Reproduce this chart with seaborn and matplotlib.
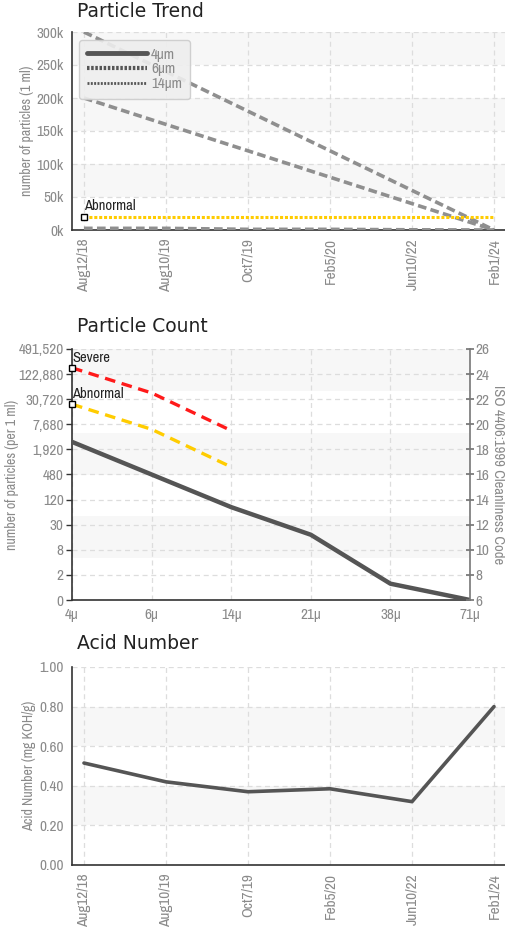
import matplotlib
matplotlib.use("Agg")
import matplotlib.pyplot as plt
from matplotlib import font_manager
from matplotlib.lines import Line2D
import numpy as np
import pandas as pd
import seaborn as sns

# ---- data -------------------------------------------------------------
dates = ["Aug12/18", "Aug10/19", "Oct7/19", "Feb5/20", "Jun10/22", "Feb1/24"]
trend_upper = [300000, 240000, 180000, 120000, 60000, 0]
trend_middle = [200000, 160000, 120000, 80000, 40000, 0]
trend_lower = [2500, 2500, 1000, 1000, 300, 0]
trend_abnormal = 20000
trend_legend = ["4\u03bcm", "6\u03bcm", "14\u03bcm"]

sizes = ["4\u03bc", "6\u03bc", "14\u03bc", "21\u03bc", "38\u03bc", "71\u03bc"]
iso_codes = [18.6, 16.0, 13.4, 11.2, 7.3, 6.0]
severe_codes = [24.5, 22.5, 19.5]
abnormal_codes = [21.6, 19.6, 16.6]
count_labels = ["0", "2", "8", "30", "120", "480", "1,920", "7,680",
                "30,720", "122,880", "491,520"]
code_ticks = [6, 8, 10, 12, 14, 16, 18, 20, 22, 24, 26]

acid = [0.515, 0.42, 0.37, 0.385, 0.32, 0.80]
acid_ticks = [0.0, 0.2, 0.4, 0.6, 0.8, 1.0]

# ---- style ------------------------------------------------------------
sns.set_theme(style="white")
plt.rcParams["font.family"] = ["DejaVu Sans"]

# look for a narrow face for the tick labels
fonts = font_manager.fontManager.ttflist
narrow = None
for f in fonts:
    if "Narrow" in f.name or "Condensed" in f.name:
        narrow = dict(family=f.name, stretch="normal")
        break
if narrow is None:
    for f in fonts:
        if f.name == "DejaVu Sans" and f.stretch == "condensed":
            narrow = dict(family="DejaVu Sans", stretch="condensed")
            break
if narrow is None:
    narrow = dict(family="Roboto", stretch="normal")
NF = narrow["family"]
NS = narrow["stretch"]

W, H = 506, 927
TICK = "#8a8a8a"
DARK = "#555555"
BAND = "#f7f7f7"
GRID = "#dddddd"
TSIZE = 11


def px_axes(fig, left, top, right, bottom):
    return fig.add_axes([left / W, 1 - bottom / H, (right - left) / W, (bottom - top) / H])


def narrowify(labels, size=TSIZE):
    for lab in labels:
        lab.set_fontfamily(NF)
        lab.set_fontstretch(NS)
        lab.set_fontsize(size)


def style_axes(ax):
    for s in ["top", "right"]:
        ax.spines[s].set_visible(False)
    for s in ["left", "bottom"]:
        ax.spines[s].set_color("#333333")
        ax.spines[s].set_linewidth(1.2)
    ax.tick_params(axis="both", colors="#333333", labelcolor=TICK, length=4,
                   width=1, pad=2)
    narrowify(ax.get_xticklabels() + ax.get_yticklabels())
    ax.grid(True, color=GRID, linestyle=(0, (4, 3)), linewidth=0.9)
    ax.set_axisbelow(True)
    ax.set_facecolor("white")


def ylab(ax, text, size=10, pad=2, rot=90):
    ax.set_ylabel(text, color=TICK, fontsize=size, fontfamily=NF,
                  fontstretch=NS, labelpad=pad, rotation=rot)


fig = plt.figure(figsize=(W / 100, H / 100), dpi=100)

# ---- Particle Trend ----------------------------------------------------
ax1 = px_axes(fig, 72, 32, 505, 230)
x = np.arange(len(dates))
for lo in [250000, 150000, 50000]:
    ax1.axhspan(lo, lo + 50000, color=BAND, zorder=0, lw=0)
for vals in [trend_upper, trend_middle, trend_lower]:
    sns.lineplot(x=x, y=vals, ax=ax1, color="#8f8f8f", lw=2.6,
                 linestyle=(0, (2.4, 1.2)), zorder=3)
ax1.plot([x[0], x[-1]], [trend_abnormal] * 2, color="#ffcc00", lw=2.2,
         linestyle=(0, (1, 0.6)), zorder=4)
ax1.plot([x[0]], [trend_abnormal], marker="s", ms=5, mfc="white", mec="black",
         mew=1, zorder=6)
ax1.annotate("Abnormal", (x[0], trend_abnormal), xytext=(0, 3),
             textcoords="offset points", fontsize=10.5, color="#222222",
             fontfamily=NF, fontstretch=NS, ha="left", va="bottom")
ax1.set_xlim(-0.146, 5.134)
ax1.set_ylim(0, 300000)
ax1.set_yticks(np.arange(0, 300001, 50000))
ax1.set_yticklabels([f"{int(v / 1000)}k" for v in np.arange(0, 300001, 50000)])
ax1.set_xticks(x)
ax1.set_xticklabels(dates, rotation=90)
ylab(ax1, "number of particles (1 ml)")
style_axes(ax1)
handles = [
    Line2D([], [], color=DARK, lw=3.5),
    Line2D([], [], color=DARK, lw=3, linestyle=(0, (0.6, 0.4))),
    Line2D([], [], color=DARK, lw=2, linestyle=(0, (0.7, 0.5))),
]
leg = ax1.legend(handles, trend_legend, loc="upper left",
                 bbox_to_anchor=(0.01, 0.975), frameon=True, fancybox=True,
                 handlelength=3.9, handletextpad=0.3, labelspacing=0.05,
                 borderpad=0.5, borderaxespad=0.2,
                 prop={"family": NF, "stretch": NS, "size": 11})
leg.get_frame().set_facecolor("#eeeeee")
leg.get_frame().set_edgecolor("#cccccc")
leg.get_frame().set_alpha(0.9)
for t in leg.get_texts():
    t.set_color(TICK)
fig.text(77 / W, 1 - 2 / H, "Particle Trend", fontsize=13.5, color="#222222",
         va="top", ha="left")

# ---- Particle Count ----------------------------------------------------
ax2 = px_axes(fig, 72, 349, 470, 600)
xs = np.arange(len(sizes))
step = 20 / 6
for k in [0, 2, 4]:
    ax2.axhspan(26 - (k + 1) * step, 26 - k * step, color=BAND, zorder=0, lw=0)
sns.lineplot(x=xs, y=iso_codes, ax=ax2, color=DARK, lw=3.2, zorder=4)
sns.lineplot(x=xs[:3], y=severe_codes, ax=ax2, color="#ff1a1a", lw=2.4,
             linestyle=(0, (3.2, 2.0)), zorder=4)
sns.lineplot(x=xs[:3], y=abnormal_codes, ax=ax2, color="#ffcc00", lw=2.4,
             linestyle=(0, (3.2, 2.0)), zorder=4)
for lbl, vals in [("Severe", severe_codes), ("Abnormal", abnormal_codes)]:
    ax2.plot([xs[0]], [vals[0]], marker="s", ms=5, mfc="white", mec="black",
             mew=1, zorder=6, clip_on=False)
    ax2.annotate(lbl, (xs[0], vals[0]), xytext=(0, 2),
                 textcoords="offset points", fontsize=10.5, color="#222222",
                 fontfamily=NF, fontstretch=NS, ha="left", va="bottom")
ax2.set_xlim(0, 5)
ax2.set_ylim(6, 26)
ax2.set_yticks(code_ticks)
ax2.set_yticklabels(count_labels)
ax2.set_xticks(xs)
ax2.set_xticklabels(sizes)
ylab(ax2, "number of particles (per 1 ml)")
ax2.yaxis.set_label_coords(-0.133, 0.5)
style_axes(ax2)
ax2b = ax2.twinx()
ax2b.set_ylim(6, 26)
ax2b.set_yticks(code_ticks)
for s in ["top", "left", "bottom"]:
    ax2b.spines[s].set_visible(False)
ax2b.spines["right"].set_color("#777777")
ax2b.spines["right"].set_linewidth(1.2)
ax2b.tick_params(axis="y", colors="#777777", labelcolor=TICK, length=6,
                 direction="inout", pad=1)
narrowify(ax2b.get_yticklabels())
ylab(ax2b, "ISO 4406:1999 Cleanliness Code", size=10.5, pad=11, rot=270)
ax2b.grid(False)
fig.text(77 / W, 1 - 317 / H, "Particle Count", fontsize=13.5, color="#222222",
         va="top", ha="left")

# ---- Acid Number -------------------------------------------------------
ax3 = px_axes(fig, 72, 667, 505, 865)
for lo in [0.2, 0.6]:
    ax3.axhspan(lo, lo + 0.2, color=BAND, zorder=0, lw=0)
sns.lineplot(x=x, y=acid, ax=ax3, color=DARK, lw=2.6, zorder=4)
ax3.set_xlim(-0.146, 5.134)
ax3.set_ylim(0, 1)
ax3.set_yticks(acid_ticks)
ax3.set_yticklabels([f"{v:.2f}" for v in acid_ticks])
ax3.set_xticks(x)
ax3.set_xticklabels(dates, rotation=90)
ylab(ax3, "Acid Number (mg KOH/g)")
style_axes(ax3)
fig.text(77 / W, 1 - 634 / H, "Acid Number", fontsize=13.5, color="#222222",
         va="top", ha="left")

fig.savefig("out.png", dpi=100)
